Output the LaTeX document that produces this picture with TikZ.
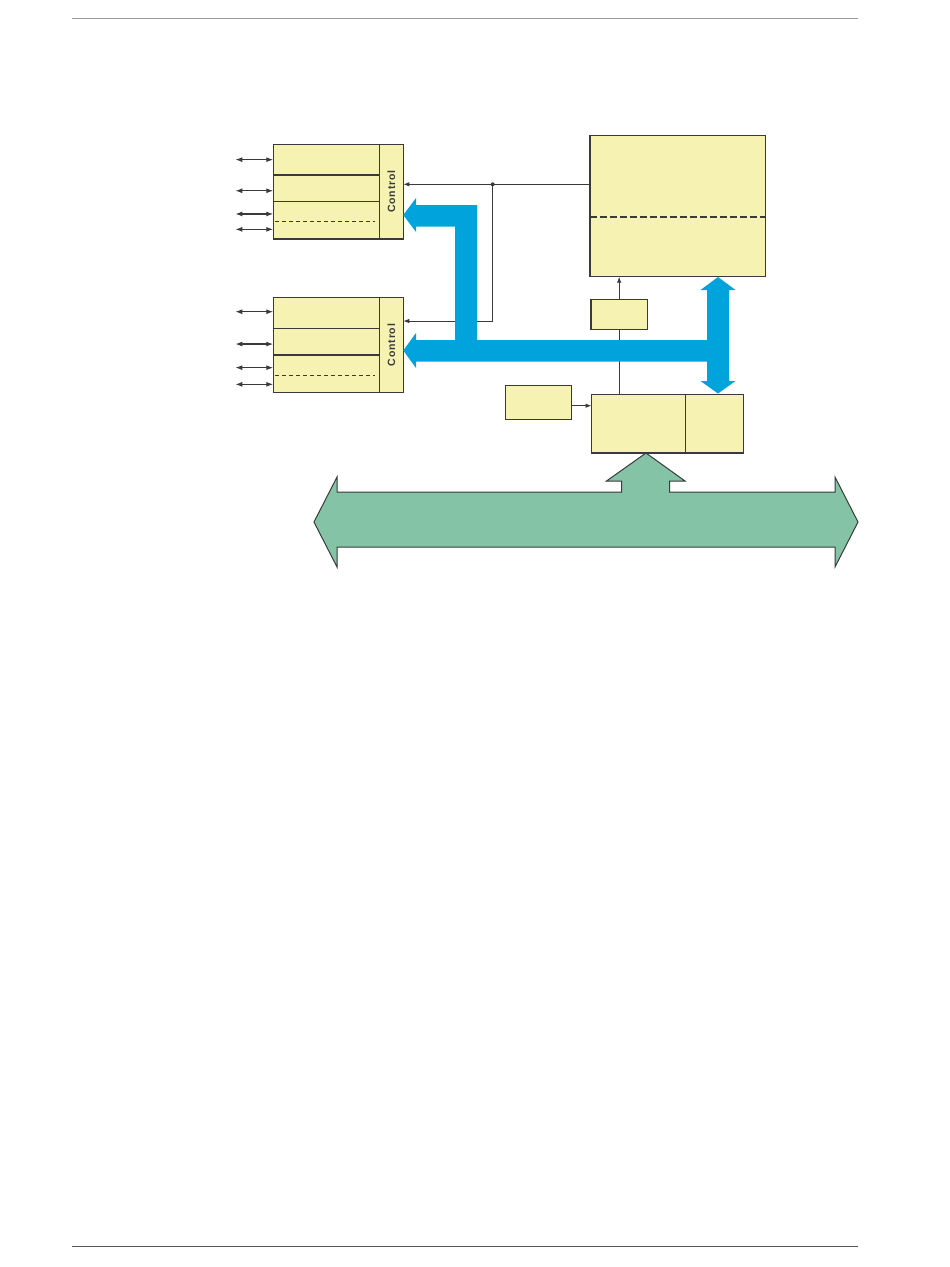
\documentclass[tikz,border=0pt]{standalone}
\usepackage{fontspec}
\usetikzlibrary{arrows.meta, positioning, calc}
\newfontfamily\ctlfont[LetterSpace=8]{Liberation Sans}
\definecolor{cellyel}{HTML}{F5F2B2}
\definecolor{busblue}{HTML}{00A3DC}
\definecolor{busgreen}{HTML}{84C3A5}
\definecolor{edge}{HTML}{3A3A3A}
\definecolor{rulegray}{HTML}{9A9A9A}

\begin{document}
\begin{tikzpicture}[
  x=1pt, y=-1pt,
  >={Latex[length=6pt, width=4.5pt]},
  cell/.style={
    draw=edge, line width=1.2pt, fill=cellyel, inner sep=0pt, outer sep=0pt,
    minimum width=#1
  },
  cell/.default=106pt,
  ctlbox/.style={
    draw=edge, line width=1.2pt, fill=cellyel, inner sep=0pt, outer sep=0pt,
    minimum width=24pt, minimum height=94.7pt, text=edge,
    font=\fontsize{10.5}{12}\ctlfont\bfseries
  },
  io/.style={{Latex[length=7pt, width=5pt]}-{Latex[length=7pt, width=5pt]},
    line width=1.2pt, edge},
  sig/.style={->, line width=0.9pt, edge},
  rowdash/.style={line width=0.9pt, edge, dash pattern=on 4pt off 3pt},
]

% Page frame
\useasboundingbox (0,0) rectangle (950,1267);
\draw[rulegray, line width=1pt] (72,18) -- (858,18);
\draw[edge!85, line width=1pt] (72,1246) -- (858,1246);

% =============================================
% Upper I/O block
% =============================================
\node[cell, minimum height=30.7pt] (a1) at (326.3,159.65) {};
\node[cell, minimum height=26.7pt, below=0pt of a1] (a2) {};
\node[cell, minimum height=37.3pt, below=0pt of a2] (a3) {};
\node[ctlbox] (actlA) at (391.3,191.65) {\rotatebox{90}{Control}};
\draw[rowdash] ([xshift=2pt]$(a3.west)+(0,0.6)$) -- ([xshift=-4pt]$(a3.east)+(0,0.6)$);

\draw[io] ($(a1.west)+(-38,0)$) -- (a1.west);
\draw[io] ($(a2.west)+(-38,2.4)$) -- ($(a2.west)+(0,2.4)$);
\draw[io] ($(a3.west)+(-38,-6.4)$) -- ($(a3.west)+(0,-6.4)$);
\draw[io] ($(a3.west)+(-38,9)$) -- ($(a3.west)+(0,9)$);

% =============================================
% Lower I/O block
% =============================================
\node[cell, minimum height=30.6pt] (b1) at (326.3,313) {};
\node[cell, minimum height=26.7pt, below=0pt of b1] (b2) {};
\node[cell, minimum height=37.3pt, below=0pt of b2] (b3) {};
\node[ctlbox] (actlB) at (391.3,345) {\rotatebox{90}{Control}};
\draw[rowdash] ([xshift=2pt]$(b3.west)+(0,2)$) -- ([xshift=-4pt]$(b3.east)+(0,2)$);

\draw[io] ($(b1.west)+(-38,-1.3)$) -- ($(b1.west)+(0,-1.3)$);
\draw[io] ($(b2.west)+(-38,2.4)$) -- ($(b2.west)+(0,2.4)$);
\draw[io] ($(b3.west)+(-38,-6)$) -- ($(b3.west)+(0,-6)$);
\draw[io] ($(b3.west)+(-38,10.7)$) -- ($(b3.west)+(0,10.7)$);

% =============================================
% Memory, register, clock and interface
% =============================================
\node[cell=175.7pt, minimum height=141pt] (mem) at (677.85,206.2) {};
\draw[edge, line width=1.8pt, dash pattern=on 7pt off 3pt]
  ($(mem.west)+(0,10.5)$) -- ($(mem.east)+(0,10.5)$);

\node[cell=56.3pt, minimum height=30pt] (reg) at (619.15,314.3) {};
\node[cell=66pt, minimum height=34pt] (clk) at (538.3,402.7) {};
\node[cell=94pt, minimum height=58.7pt] (hub) at (638.7,423.65) {};
\node[cell=57.6pt, minimum height=58.7pt, right=0pt of hub] (hubR) {};

% =============================================
% Thin signal lines
% =============================================
\coordinate (tap) at (492.7,184.3);
\coordinate (tapB) at (492.7,321);
\draw[sig] (mem.west |- tap) -- (actlA.east |- tap);
\draw[sig] (tap) -- (tapB) -- (tapB -| actlB.east);
\fill[edge] (tap) circle (2pt);

\draw[sig] (reg.north) -- (reg.north |- mem.south);
\draw[line width=0.9pt, edge] (reg.south) -- (reg.south |- hub.north);
\draw[sig, line width=1.2pt] ($(clk.east)+(0,3)$) -- ($(clk.east -| hub.west)+(0,3)$);

% =============================================
% Internal data bus (blue)
% =============================================
\fill[busblue]
  (403.3,215) -- (416,198) -- (416,205) -- (477,205) -- (477,340)
  -- (707,340) -- (707,290) -- (700.5,290) -- (718,277) -- (735.5,290)
  -- (729,290) -- (729,381) -- (735.5,381) -- (718,393.5) -- (700.5,381)
  -- (707,381) -- (707,361.5) -- (416,361.5) -- (416,368)
  -- (403.3,350.5) -- (416,333) -- (416,340) -- (455,340)
  -- (455,226.5) -- (416,226.5) -- (416,232) -- cycle;

% =============================================
% System bus (green)
% =============================================
\filldraw[fill=busgreen, draw=edge, line width=1pt]
  (314,522) -- (337,477) -- (337,492) -- (621.5,492) -- (621.5,481)
  -- (606.5,481) -- (646,453) -- (685,481) -- (669.5,481) -- (669.5,492)
  -- (835,492) -- (835,477) -- (858,522) -- (835,567) -- (835,547)
  -- (337,547) -- (337,567) -- cycle;

\end{tikzpicture}
\end{document}
